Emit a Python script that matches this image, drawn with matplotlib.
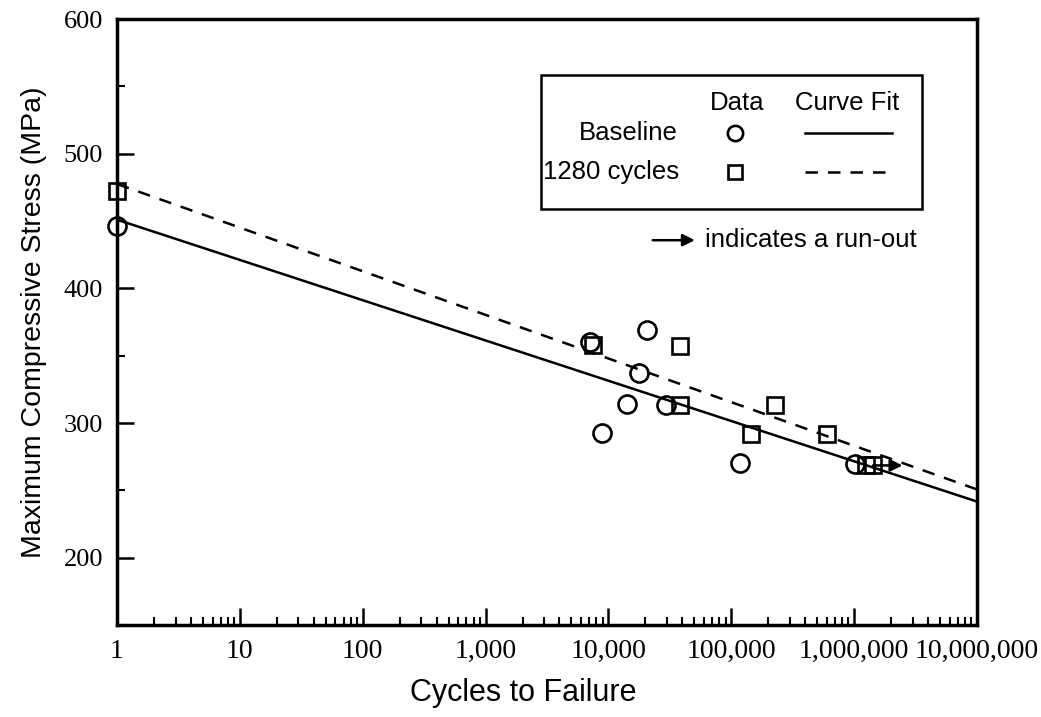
import matplotlib
matplotlib.use('Agg')
import matplotlib.pyplot as plt
import numpy as np
from matplotlib.ticker import FixedLocator, FuncFormatter, MultipleLocator, LogLocator, NullFormatter
from matplotlib.patches import Rectangle

# Baseline specimens (circles)
base_cycles = [1, 7100, 8800, 14300, 17800, 20600, 29700, 117000, 1010000]
base_stress = [446.5, 360, 292.5, 314, 337, 369, 313, 270, 269.5]

# 1280 cycles specimens (squares)
cyc_cycles = [1, 7500, 38000, 38000, 146000, 229000, 603000, 1250000, 1430000]
cyc_stress = [472.5, 358, 357.5, 313, 292, 313, 291.5, 268.5, 268.5]

# run-out (arrow) for the last 1280 cycles specimen
runout_start = [1430000, 268.5]
runout_end = [2480000, 268.5]

# curve fits: S = a + b*log10(N)
base_fit = [451.0, -29.9]
cyc_fit = [477.5, -32.4]

fit_x = [1, 1e7]

x_ticks = [1, 10, 100, 1000, 10000, 100000, 1000000, 10000000]
y_ticks = [200, 300, 400, 500, 600]

sans = ['Liberation Sans', 'DejaVu Sans']
serif = ['Liberation Serif', 'DejaVu Serif']

fig = plt.figure(figsize=(10.41, 7.17), dpi=100)
ax = fig.add_axes([0.1124, 0.1283, 0.826, 0.8452])

lx = np.log10(fit_x)
ax.plot(fit_x, base_fit[0] + base_fit[1] * lx, color='black', lw=1.8, zorder=2)
ax.plot(fit_x, cyc_fit[0] + cyc_fit[1] * lx, color='black', lw=1.8, dashes=(5, 4), zorder=2)

ax.plot(base_cycles, base_stress, 'o', ms=13, mfc='none', mec='black', mew=1.9,
        clip_on=False, zorder=3)
ax.plot(cyc_cycles, cyc_stress, 's', ms=11.5, mfc='none', mec='black', mew=1.9,
        clip_on=False, zorder=3)

ax.annotate('', xy=runout_end, xytext=runout_start,
            arrowprops=dict(arrowstyle='-|>', color='black', lw=1.8,
                            mutation_scale=18, shrinkA=0, shrinkB=0))

ax.set_xscale('log')
ax.set_xlim(1, 1e7)
ax.set_ylim(150, 600)
ax.xaxis.set_major_locator(FixedLocator(x_ticks))
ax.xaxis.set_major_formatter(FuncFormatter(lambda v, p: f'{int(round(v)):,}'))
ax.xaxis.set_minor_locator(LogLocator(base=10, subs=np.arange(2, 10), numticks=20))
ax.xaxis.set_minor_formatter(NullFormatter())
ax.yaxis.set_major_locator(FixedLocator(y_ticks))
ax.yaxis.set_minor_locator(MultipleLocator(50))

ax.tick_params(which='major', direction='in', length=12, width=1.8, top=False, right=False,
               labelsize=19, pad=10)
ax.tick_params(axis='x', which='major', labelsize=20)
ax.tick_params(which='minor', direction='in', length=6, width=1.5, top=False, right=False)
for lab in ax.get_xticklabels() + ax.get_yticklabels():
    lab.set_fontfamily(serif)
for sp in ax.spines.values():
    sp.set_linewidth(2.5)

ax.set_xlabel('Cycles to Failure', fontsize=22, family=sans)
ax.xaxis.set_label_coords(0.472, -0.088)
ax.set_ylabel('Maximum Compressive Stress (MPa)', fontsize=20.5, family=sans, labelpad=12)

# legend drawn by hand
tr = ax.transAxes
ax.add_patch(Rectangle((0.493, 0.686), 0.443, 0.222, transform=tr, fill=False,
                       lw=1.8, ec='black', zorder=4))
ax.text(0.721, 0.861, 'Data', transform=tr, ha='center', va='center', fontsize=18.5, family=sans)
ax.text(0.849, 0.861, 'Curve Fit', transform=tr, ha='center', va='center', fontsize=18.5, family=sans)
ax.text(0.652, 0.812, 'Baseline', transform=tr, ha='right', va='center', fontsize=18.5, family=sans)
ax.text(0.654, 0.748, '1280 cycles', transform=tr, ha='right', va='center', fontsize=18.5, family=sans)
ax.plot([0.719], [0.812], 'o', ms=11, mfc='none', mec='black', mew=1.9, transform=tr)
ax.plot([0.719], [0.748], 's', ms=9.5, mfc='none', mec='black', mew=1.9, transform=tr)
ax.plot([0.800, 0.901], [0.812, 0.812], color='black', lw=1.8, transform=tr)
ax.plot([0.800, 0.901], [0.748, 0.748], color='black', lw=1.8, dashes=(5, 4), transform=tr)
ax.annotate('', xy=(0.672, 0.635), xytext=(0.623, 0.635), xycoords=tr, textcoords=tr,
            arrowprops=dict(arrowstyle='-|>', color='black', lw=1.8,
                            mutation_scale=18, shrinkA=0, shrinkB=0))
ax.text(0.684, 0.635, 'indicates a run-out', transform=tr, ha='left', va='center',
        fontsize=18.5, family=sans)

fig.savefig('out.png', dpi=100)
